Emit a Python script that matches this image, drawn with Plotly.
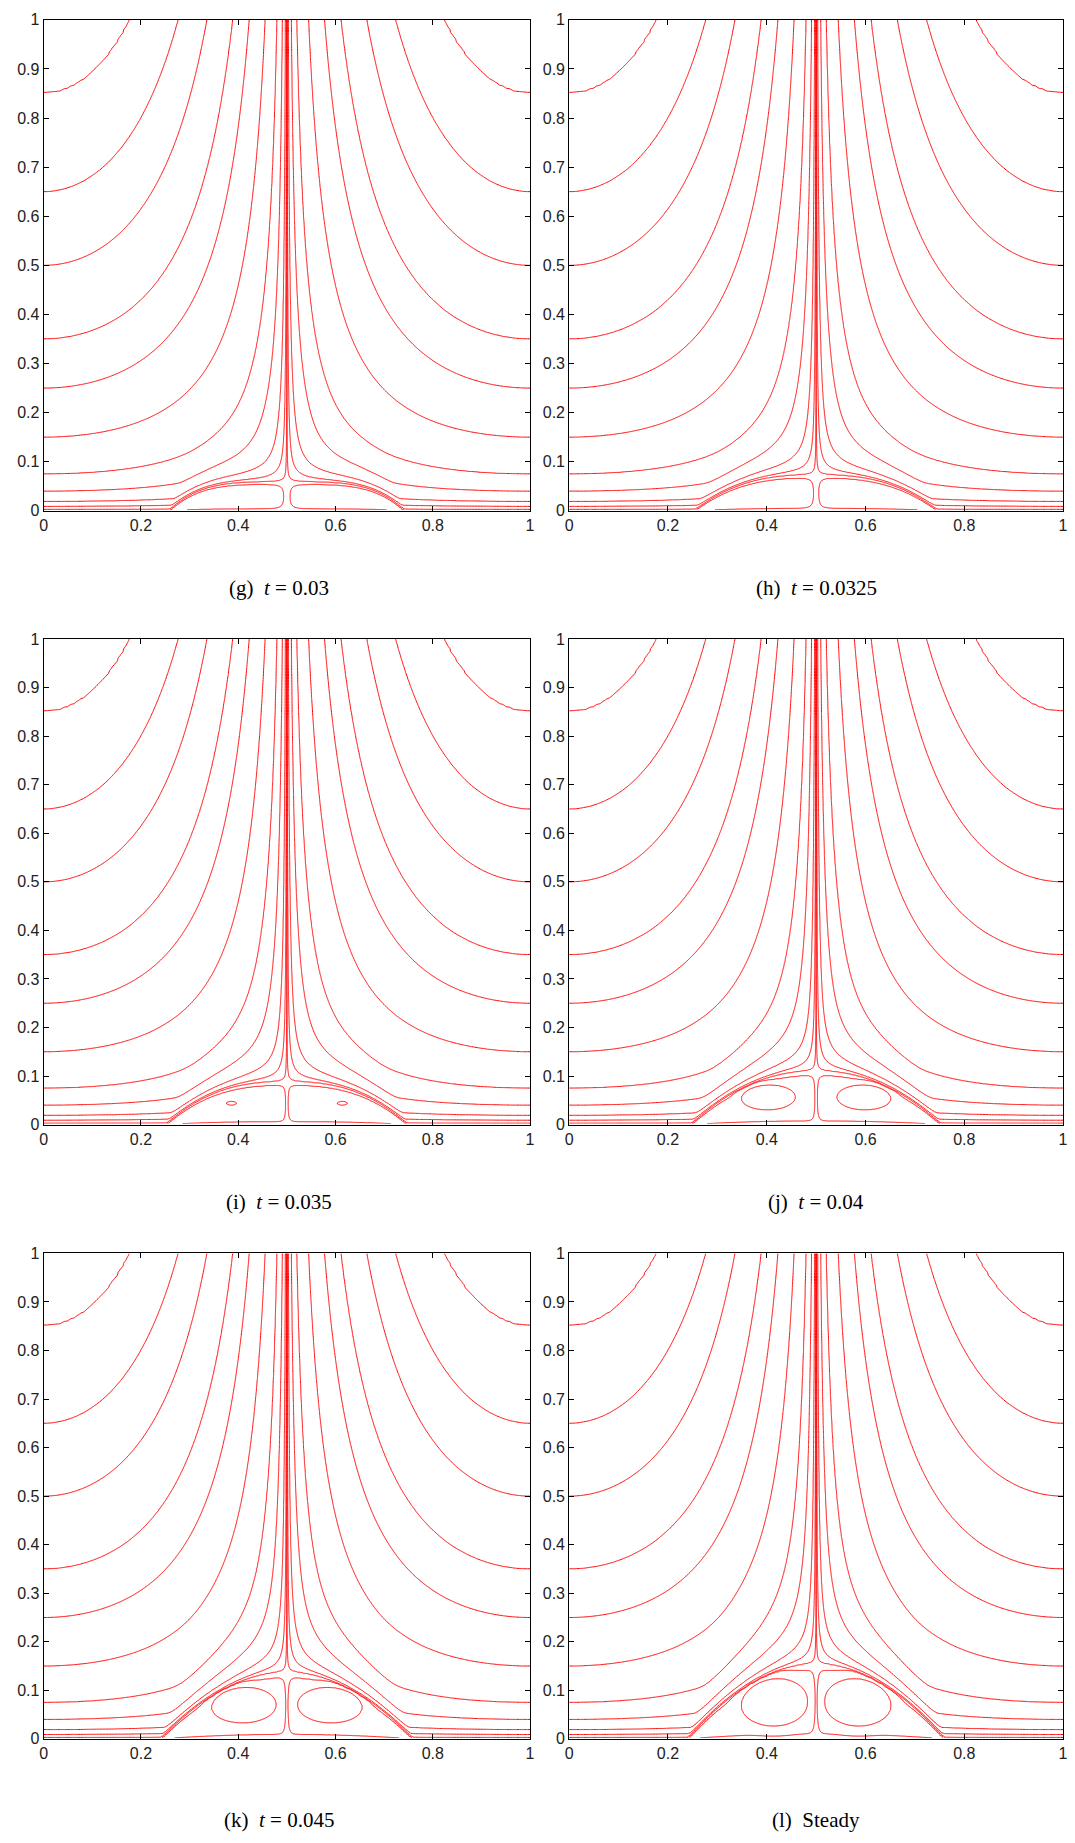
import numpy as np
import plotly.graph_objects as go

# Streamlines enter/leave through the side walls at these heights (same at x=0 and x=1)
side_intercepts = [0.85, 0.65, 0.5, 0.35, 0.25, 0.15, 0.075, 0.04, 0.019, 0.009]

panel_labels = ["(g)  <i>t</i> = 0.03", "(h)  <i>t</i> = 0.0325", "(i)  <i>t</i> = 0.035",
                "(j)  <i>t</i> = 0.04", "(k)  <i>t</i> = 0.045", "(l)  Steady"]

# Separation bubble on the wall: height at x=0.5, upstream tip, profile exponent
bubble_height = [0.058, 0.072, 0.087, 0.109, 0.136, 0.153]
bubble_tip = [0.258, 0.254, 0.252, 0.247, 0.241, 0.240]
bubble_shape = [4.0, 2.7, 2.6, 2.2, 2.0, 2.0]
# Width of the shear layer along x=0.5 inside the bubble
shear_width = [0.025, 0.020, 0.010, 0.010, 0.010, 0.010]

# Left recirculation eddy (right one is its mirror): centre and half-extent
eddy_x = [None, None, 0.386, 0.402, 0.410, 0.415]
eddy_y = [None, None, 0.044, 0.057, 0.071, 0.077]
eddy_dx = [None, None, 0.0105, 0.053, 0.064, 0.066]
eddy_dy = [None, None, 0.0040, 0.026, 0.037, 0.052]

x_ticks = [0, 0.2, 0.4, 0.6, 0.8, 1]
x_tick_text = ["0", "0.2", "0.4", "0.6", "0.8", "1"]
y_ticks = [0, 0.1, 0.2, 0.3, 0.4, 0.5, 0.6, 0.7, 0.8, 0.9, 1]
y_tick_text = ["0", "0.1", "0.2", "0.3", "0.4", "0.5", "0.6", "0.7", "0.8", "0.9", "1"]

# Stream-function level that hugs the separatrix
sep_level = 3e-4

DELTA = 0.012      # boundary-layer thickness
KAPPA = 0.5        # decay length above the bubble, as a fraction of its height
CORE = 4 * sep_level
EDDY_POW = 0.12    # flatness of the eddy profile across the bubble


def F(y):
    return y - DELTA * (1.0 - np.exp(-y / DELTA))


# The eddy outline is the innermost wall streamline level; the next one must stay unreached
eddy_level = float(F(np.array(side_intercepts[-1])))
next_level = float(F(np.array(side_intercepts[-2])))


def bubble(k, x):
    s = np.abs(0.5 - x)
    r = s / (0.5 - bubble_tip[k])
    return bubble_height[k] * np.clip(1.0 - r ** bubble_shape[k], 0.0, None)


def eddy_amplitude(k):
    """Strength of the eddy so that its outline passes through its left and right ends."""
    w = shear_width[k]
    xc, yc, dx = eddy_x[k], eddy_y[k], eddy_dx[k]
    need = []
    for xe in (xc - dx, xc + dx):
        u = yc / bubble(k, np.array(xe))
        sd = 4 * u * (1 - u)
        th = np.tanh((0.5 - xe) / w)
        need.append((eddy_level / th - CORE * sd) / (sd ** EDDY_POW * np.exp(-1.0)))
    return min(max(need), 0.8 * next_level - CORE)


def stream(k, X, Y):
    H = bubble(k, X)
    s = np.abs(0.5 - X)
    Hs = np.where(H > 0, H, 1.0)
    Q = np.where(H > 0, 1.0 - np.exp(-np.clip(Y - H, 0, None) / (KAPPA * Hs)), 1.0)
    U = np.where(H > 0, Y / Hs, 2.0)
    outer = np.cos(np.pi * X) * F(Y) * Q
    inside = U < 1
    Uc = np.clip(U, 0, 1)
    Sd = 4 * Uc * (1 - Uc)
    w = shear_width[k]
    core = CORE * Sd
    if eddy_x[k] is not None:
        amp = eddy_amplitude(k)
        rho2 = (((s - (0.5 - eddy_x[k])) / eddy_dx[k]) ** 2
                + ((Y - eddy_y[k]) / eddy_dy[k]) ** 2)
        core = core + amp * Sd ** EDDY_POW * np.exp(-rho2 ** 2)
    E = np.sign(0.5 - X) * np.tanh(s / w) * core
    return np.where(inside, -E, outer)


# Contour levels (antisymmetric about x = 0.5)
pos = sorted(set([float(F(np.array(v))) for v in side_intercepts] + [sep_level]))
levels = sorted([-v for v in pos] + pos)
n_lev = len(levels)
lev_x = [-2.0] + levels + [2.0]
lev_i = [-1.0] + list(range(n_lev)) + [float(n_lev)]

# Grid clustered at the centre line and at the wall
t = np.linspace(0.004, 1.0, 140)
s_half = 0.5 * t ** 2
xg = np.concatenate([0.5 - s_half[::-1], 0.5 + s_half])
ty = np.linspace(0.012, 1.0, 280)
yg = 0.85 * ty ** 2 + 0.15 * ty
yg = yg / yg[-1]
X, Y = np.meshgrid(xg, yg)

# Panel boxes in pixels (left, right) and (top, bottom)
W, Hpx = 1075, 1843
cols = [(40, 530.5), (570, 1068)]
rows = [(12, 507.5), (637, 1127), (1257, 1747)]
cap_x = [277, 819]
cap_y = [585, 1205, 1829]

fig = go.Figure()
annotations = []
for k in range(6):
    r, c = divmod(k, 2)
    psi = stream(k, X, Y)
    zt = np.interp(psi.ravel(), lev_x, lev_i).reshape(psi.shape)
    zt = np.round(zt, 4)
    ax = "" if k == 0 else str(k + 1)
    fig.add_trace(go.Contour(
        x=np.round(xg, 6), y=np.round(yg, 6), z=zt,
        autocontour=False,
        contours=dict(start=0, end=n_lev - 1, size=1, coloring="none"),
        line=dict(color="#ff0000", width=1, smoothing=0),
        showscale=False, hoverinfo="skip",
        xaxis="x" + ax, yaxis="y" + ax,
    ))
    x0, x1 = cols[c]
    y0, y1 = rows[r]
    common = dict(range=[0, 1], showgrid=False, zeroline=False, showline=True,
                  linecolor="black", linewidth=1, mirror="ticks", ticks="inside",
                  ticklen=5, tickcolor="black", tickwidth=1,
                  tickfont=dict(family="Liberation Sans, Arial", size=16, color="#222222"))
    fig.update_layout(**{
        "xaxis" + ax: dict(domain=[x0 / W, x1 / W], anchor="y" + ax,
                           tickvals=x_ticks, ticktext=x_tick_text, **common),
        "yaxis" + ax: dict(domain=[1 - y1 / Hpx, 1 - y0 / Hpx], anchor="x" + ax,
                           tickvals=y_ticks, ticktext=y_tick_text, **common),
    })
    annotations.append(dict(text=panel_labels[k], x=cap_x[c] / W, y=1 - cap_y[r] / Hpx,
                            xref="paper", yref="paper", showarrow=False,
                            xanchor="center", yanchor="middle",
                            font=dict(family="Liberation Serif, Times New Roman, serif",
                                      size=21, color="black")))

fig.update_layout(width=W, height=Hpx, margin=dict(l=0, r=0, t=0, b=0),
                  paper_bgcolor="white", plot_bgcolor="white", showlegend=False,
                  annotations=annotations)
fig.write_html("out.html")
